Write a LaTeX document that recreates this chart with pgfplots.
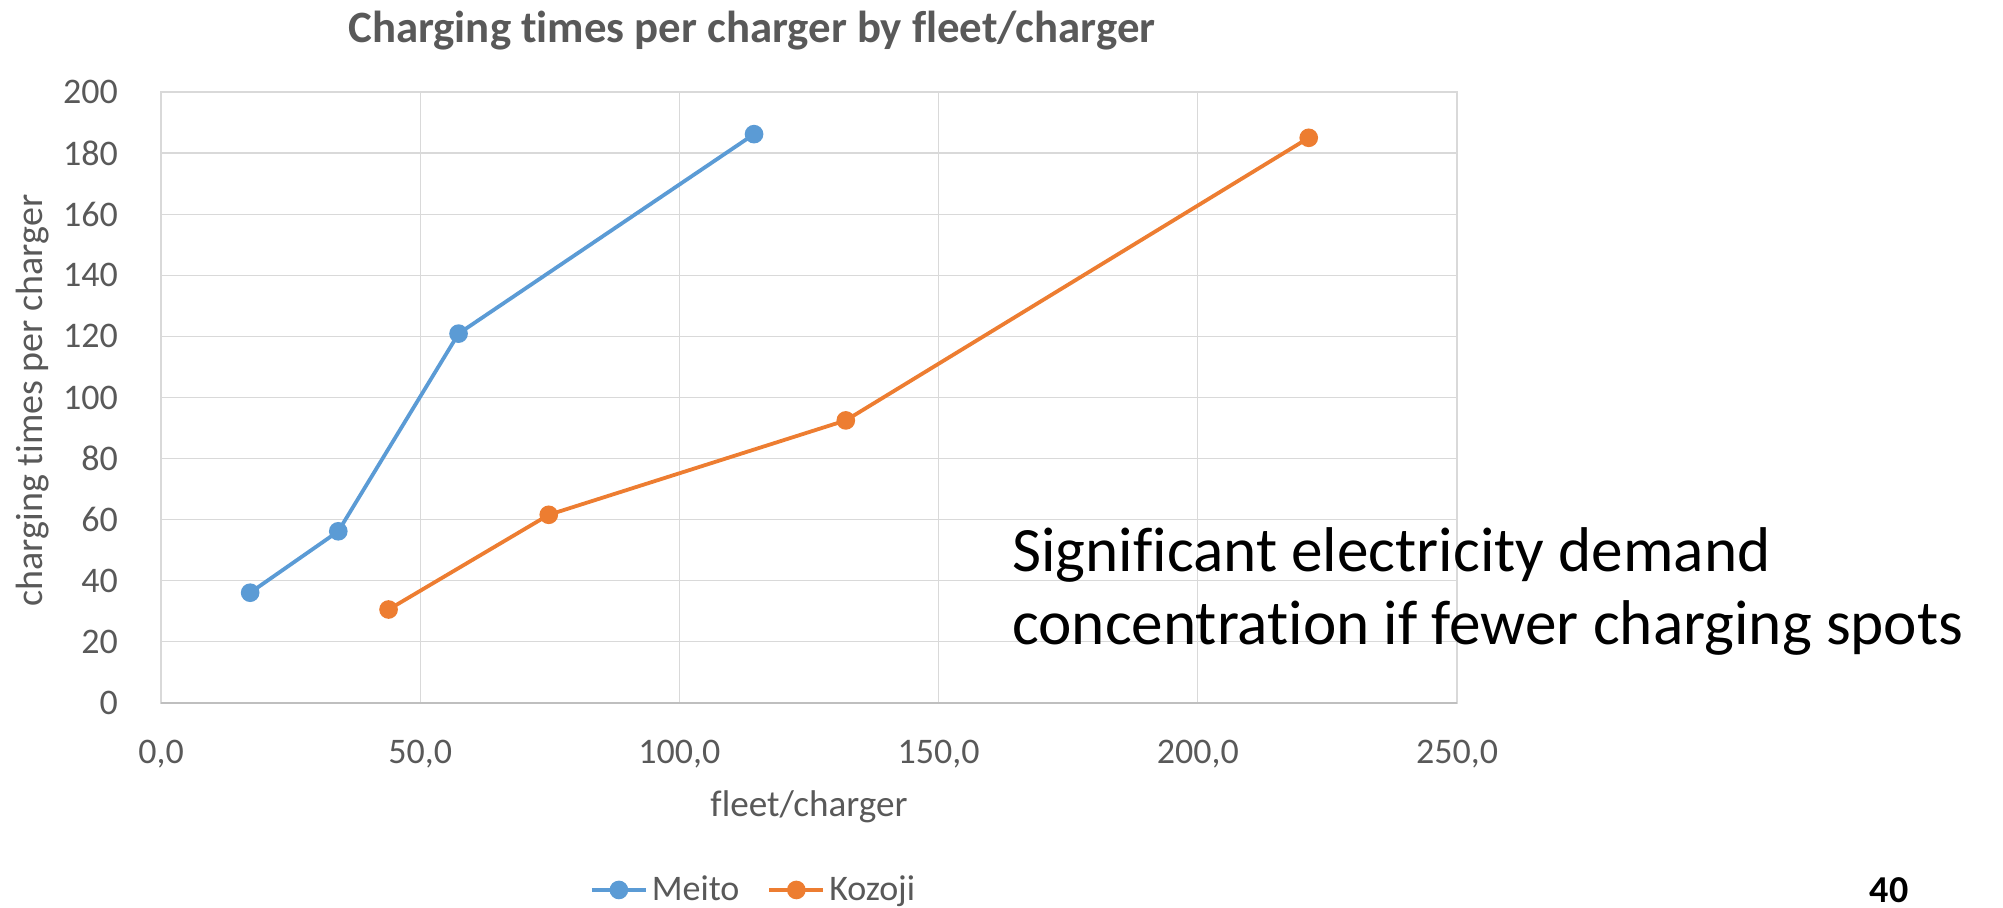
\documentclass[border=0pt]{standalone}
\usepackage{fontspec}
\setmainfont{Carlito}[Ligatures=NoCommon]
\usepackage{pgfplots}
\pgfplotsset{compat=1.18}
\definecolor{meito}{HTML}{5B9BD5}
\definecolor{kozoji}{HTML}{ED7D31}
\definecolor{txtgray}{HTML}{595959}
\definecolor{gridgray}{HTML}{D9D9D9}
\definecolor{axisgray}{HTML}{BFBFBF}

\begin{document}
\begin{tikzpicture}
\path[use as bounding box] (-80.5pt,-102.5pt) rectangle (921pt,351.5pt);
\begin{axis}[
  scale only axis, width=648pt, height=305.5pt,
  at={(0,0)}, anchor=south west,
  clip=false,
  xmin=0, xmax=250, ymin=0, ymax=200,
  xtick={0,50,...,250}, ytick={0,20,...,200},
  major tick length=0pt,
  grid=major,
  major grid style={gridgray, line width=0.6pt},
  axis line style={gridgray, line width=0.6pt},
  /pgf/number format/assume math mode=true,
  tick label style={font=\fontsize{18}{22}\selectfont, text=txtgray},
  x tick label style={yshift=-15pt,
    /pgf/number format/fixed, /pgf/number format/fixed zerofill,
    /pgf/number format/precision=1, /pgf/number format/use comma,
    /pgf/number format/1000 sep={}},
  yticklabel style={xshift=-18pt},
  title={Charging times per charger by fleet/charger},
  title style={at={(axis description cs:0.456,1.0998)}, anchor=center, yshift=-6pt,
    font=\bfseries\fontsize{22.4}{27}\selectfont, text=txtgray},
  xlabel={fleet/charger},
  xlabel style={at={(axis description cs:0.5,-0.170)}, anchor=center,
    font=\fontsize{18.6}{22}\selectfont, text=txtgray},
  ylabel={charging times per charger},
  ylabel style={at={(axis description cs:-0.0988,0.495)}, anchor=center,
    font=\fontsize{19}{23}\selectfont, text=txtgray},
  legend columns=2,
  legend style={at={(axis description cs:0.458,-0.306)}, anchor=center,
    draw=none, fill=none, font=\fontsize{18}{22}\selectfont, text=txtgray,
    /tikz/every even column/.append style={column sep=12pt}},
  legend image code/.code={\draw[mark repeat=2,mark phase=2,#1]
    plot coordinates {(0pt,0pt) (13.5pt,0pt) (27pt,0pt)};},
]
\addplot[meito, line width=1.9pt, mark=*, mark size=3.7pt]
  coordinates {(17.2,36.1) (34.2,56.2) (57.4,120.9) (114.4,186.2)};
\addlegendentry{Meito}
\addplot[kozoji, line width=1.9pt, mark=*, mark size=3.7pt]
  coordinates {(43.9,30.6) (74.8,61.6) (132.1,92.5) (221.4,185.0)};
\addlegendentry{Kozoji}
\draw[axisgray, line width=1.2pt] (axis cs:0,0) -- (axis cs:250,0);
\node[anchor=base west, inner sep=0pt, font=\fontsize{31.6}{38}\selectfont, text=black]
  at (axis description cs:0.6566,0.216) {Significant electricity demand};
\node[anchor=base west, inner sep=0pt, font=\fontsize{31.6}{38}\selectfont, text=black]
  at (axis description cs:0.6566,0.095) {concentration if fewer charging spots};
\end{axis}
\node[anchor=center, font=\bfseries\fontsize{19}{23}\selectfont] at (864pt,-93.5pt) {40};
\end{tikzpicture}
\end{document}
